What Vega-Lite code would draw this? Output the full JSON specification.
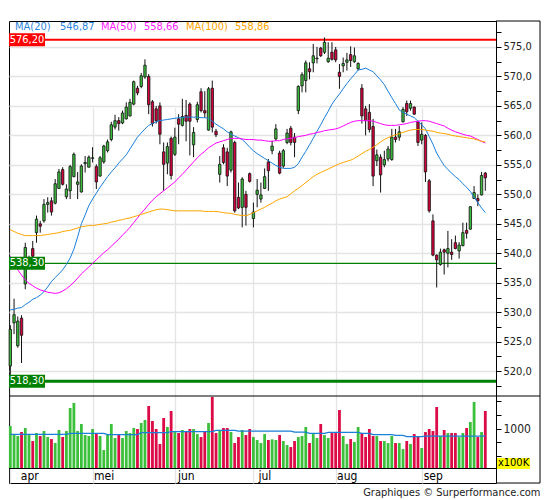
{
  "$schema": "https://vega.github.io/schema/vega-lite/v6.json",
  "width": 487,
  "height": 462,
  "padding": {"left": 7, "top": 20, "right": 0, "bottom": 0},
  "title": {"text": "Graphiques © Surperformance.com", "orient": "bottom", "anchor": "end", "frame": "bounds", "fontSize": 11, "fontWeight": "normal", "color": "#222", "offset": 3},
  "config": {"font": "DejaVu Sans Condensed, Liberation Sans, sans-serif", "view": {"stroke": "#000"}},
  "datasets": {
    "ohlc": [
      {"i":0,"o":520.9,"h":527.8,"l":519.4,"c":527.1,"v":1045,"vm":895,"m20":530.4,"m50":539.5,"m100":544.0},
      {"i":1,"o":528.2,"h":532.3,"l":526.3,"c":529.6,"v":895,"vm":895,"m20":530.5,"m50":538.3,"m100":543.7},
      {"i":2,"o":524.3,"h":529.3,"l":524.0,"c":528.5,"v":865,"vm":895,"m20":530.7,"m50":537.2,"m100":543.4},
      {"i":3,"o":529.0,"h":529.5,"l":521.4,"c":526.1,"v":937,"vm":895,"m20":530.8,"m50":536.3,"m100":543.2},
      {"i":4,"o":534.8,"h":541.8,"l":533.9,"c":541.0,"v":1009,"vm":895,"m20":531.3,"m50":535.5,"m100":543.0},
      {"i":5,"o":538.2,"h":539.6,"l":537.8,"c":539.2,"v":895,"vm":895,"m20":531.7,"m50":534.9,"m100":543.0},
      {"i":6,"o":540.8,"h":542.1,"l":538.5,"c":539.5,"v":775,"vm":895,"m20":532.2,"m50":534.5,"m100":543.0},
      {"i":7,"o":543.5,"h":546.4,"l":541.8,"c":545.8,"v":919,"vm":895,"m20":532.5,"m50":534.1,"m100":543.0},
      {"i":8,"o":545.0,"h":545.5,"l":543.5,"c":544.6,"v":865,"vm":895,"m20":532.9,"m50":533.8,"m100":543.0},
      {"i":9,"o":545.5,"h":549.2,"l":545.2,"c":548.3,"v":955,"vm":895,"m20":533.5,"m50":533.6,"m100":543.1},
      {"i":10,"o":548.3,"h":549.5,"l":546.9,"c":548.6,"v":847,"vm":895,"m20":534.3,"m50":533.4,"m100":543.2},
      {"i":11,"o":548.9,"h":549.5,"l":546.4,"c":547.0,"v":811,"vm":895,"m20":535.2,"m50":533.3,"m100":543.3},
      {"i":12,"o":548.5,"h":552.6,"l":548.3,"c":551.8,"v":739,"vm":895,"m20":535.9,"m50":533.2,"m100":543.4},
      {"i":13,"o":551.0,"h":554.3,"l":550.9,"c":553.8,"v":973,"vm":895,"m20":536.5,"m50":533.3,"m100":543.5},
      {"i":14,"o":554.2,"h":554.6,"l":551.5,"c":551.7,"v":847,"vm":895,"m20":537.2,"m50":533.6,"m100":543.7},
      {"i":15,"o":549.6,"h":551.7,"l":549.2,"c":550.9,"v":955,"vm":895,"m20":538.1,"m50":534.0,"m100":543.8},
      {"i":16,"o":550.6,"h":555.0,"l":549.2,"c":554.7,"v":1369,"vm":913,"m20":539.2,"m50":534.5,"m100":543.9},
      {"i":17,"o":553.0,"h":557.1,"l":552.9,"c":556.8,"v":1459,"vm":913,"m20":540.7,"m50":535.1,"m100":544.1},
      {"i":18,"o":551.7,"h":553.8,"l":549.2,"c":552.1,"v":955,"vm":913,"m20":542.8,"m50":535.8,"m100":544.3},
      {"i":19,"o":550.4,"h":555.1,"l":550.3,"c":554.8,"v":1081,"vm":913,"m20":545.0,"m50":536.5,"m100":544.5},
      {"i":20,"o":555.2,"h":556.5,"l":553.7,"c":555.4,"v":883,"vm":913,"m20":546.5,"m50":537.1,"m100":544.6},
      {"i":21,"o":554.6,"h":556.6,"l":554.6,"c":556.3,"v":865,"vm":913,"m20":548.1,"m50":537.7,"m100":544.7},
      {"i":22,"o":556.1,"h":558.0,"l":555.4,"c":556.2,"v":991,"vm":913,"m20":549.2,"m50":538.3,"m100":544.7},
      {"i":23,"o":554.7,"h":555.1,"l":550.9,"c":552.1,"v":901,"vm":913,"m20":550.2,"m50":538.9,"m100":544.8},
      {"i":24,"o":553.1,"h":556.5,"l":553.0,"c":556.2,"v":865,"vm":913,"m20":551.2,"m50":539.5,"m100":544.9},
      {"i":25,"o":555.5,"h":558.4,"l":555.2,"c":558.2,"v":613,"vm":913,"m20":552.1,"m50":540.1,"m100":545.0},
      {"i":26,"o":557.4,"h":559.3,"l":557.1,"c":558.9,"v":901,"vm":889,"m20":553.0,"m50":540.6,"m100":545.1},
      {"i":27,"o":559.3,"h":562.3,"l":559.0,"c":561.8,"v":1081,"vm":889,"m20":553.8,"m50":541.2,"m100":545.3},
      {"i":28,"o":561.4,"h":563.5,"l":561.0,"c":562.5,"v":829,"vm":889,"m20":554.5,"m50":541.8,"m100":545.4},
      {"i":29,"o":562.5,"h":563.1,"l":560.8,"c":562.0,"v":883,"vm":889,"m20":555.3,"m50":542.4,"m100":545.6},
      {"i":30,"o":562.1,"h":564.2,"l":561.9,"c":563.8,"v":829,"vm":889,"m20":556.0,"m50":543.1,"m100":545.7},
      {"i":31,"o":562.8,"h":565.6,"l":562.7,"c":564.8,"v":955,"vm":889,"m20":556.7,"m50":543.7,"m100":545.9},
      {"i":32,"o":563.3,"h":566.2,"l":563.2,"c":565.6,"v":919,"vm":889,"m20":557.7,"m50":544.4,"m100":546.0},
      {"i":33,"o":565.3,"h":569.3,"l":565.1,"c":569.1,"v":1009,"vm":889,"m20":558.7,"m50":545.2,"m100":546.2},
      {"i":34,"o":568.0,"h":568.4,"l":566.8,"c":567.2,"v":991,"vm":889,"m20":559.7,"m50":546.0,"m100":546.4},
      {"i":35,"o":568.3,"h":570.6,"l":568.0,"c":570.1,"v":1099,"vm":925,"m20":560.4,"m50":546.8,"m100":546.6},
      {"i":36,"o":569.9,"h":572.9,"l":569.6,"c":571.9,"v":1153,"vm":925,"m20":561.1,"m50":547.5,"m100":546.8},
      {"i":37,"o":570.0,"h":570.4,"l":563.6,"c":565.2,"v":1405,"vm":925,"m20":561.7,"m50":548.3,"m100":547.0},
      {"i":38,"o":565.7,"h":566.0,"l":561.5,"c":562.0,"v":1135,"vm":925,"m20":562.0,"m50":549.0,"m100":547.2},
      {"i":39,"o":564.5,"h":565.0,"l":562.0,"c":562.5,"v":991,"vm":925,"m20":562.3,"m50":549.6,"m100":547.4},
      {"i":40,"o":565.0,"h":565.6,"l":558.5,"c":560.2,"v":721,"vm":925,"m20":562.5,"m50":550.1,"m100":547.5},
      {"i":41,"o":557.2,"h":558.8,"l":550.6,"c":555.1,"v":1189,"vm":925,"m20":562.6,"m50":550.6,"m100":547.5},
      {"i":42,"o":555.3,"h":558.8,"l":553.4,"c":558.1,"v":1027,"vm":925,"m20":562.7,"m50":551.1,"m100":547.4},
      {"i":43,"o":559.5,"h":559.8,"l":552.5,"c":553.2,"v":1315,"vm":943,"m20":562.8,"m50":551.6,"m100":547.3},
      {"i":44,"o":556.8,"h":561.3,"l":556.5,"c":559.7,"v":937,"vm":943,"m20":562.9,"m50":552.1,"m100":547.2},
      {"i":45,"o":562.8,"h":563.6,"l":558.5,"c":561.9,"v":919,"vm":943,"m20":563.0,"m50":552.8,"m100":547.2},
      {"i":46,"o":561.7,"h":566.2,"l":561.5,"c":563.2,"v":973,"vm":943,"m20":563.0,"m50":553.4,"m100":547.2},
      {"i":47,"o":563.4,"h":566.0,"l":559.0,"c":562.4,"v":955,"vm":943,"m20":563.1,"m50":554.1,"m100":547.2},
      {"i":48,"o":565.3,"h":565.6,"l":556.6,"c":562.4,"v":991,"vm":943,"m20":563.1,"m50":554.8,"m100":547.2},
      {"i":49,"o":558.4,"h":561.4,"l":556.3,"c":560.5,"v":991,"vm":943,"m20":563.1,"m50":555.5,"m100":547.2},
      {"i":50,"o":562.7,"h":565.7,"l":562.2,"c":565.2,"v":901,"vm":943,"m20":563.1,"m50":556.2,"m100":547.2},
      {"i":51,"o":567.4,"h":568.0,"l":563.9,"c":564.2,"v":847,"vm":943,"m20":563.0,"m50":556.8,"m100":547.2},
      {"i":52,"o":564.2,"h":567.5,"l":563.0,"c":563.8,"v":955,"vm":943,"m20":563.0,"m50":557.3,"m100":547.1},
      {"i":53,"o":560.9,"h":568.2,"l":560.8,"c":567.9,"v":1099,"vm":943,"m20":562.9,"m50":557.9,"m100":547.1},
      {"i":54,"o":568.0,"h":569.3,"l":560.5,"c":561.4,"v":1567,"vm":943,"m20":562.4,"m50":558.3,"m100":547.1},
      {"i":55,"o":560.7,"h":561.1,"l":559.7,"c":560.1,"v":919,"vm":967,"m20":561.9,"m50":558.7,"m100":547.1},
      {"i":56,"o":553.4,"h":556.5,"l":552.0,"c":555.1,"v":973,"vm":967,"m20":561.5,"m50":558.9,"m100":547.0},
      {"i":57,"o":557.9,"h":558.5,"l":555.1,"c":555.4,"v":1009,"vm":967,"m20":561.1,"m50":559.1,"m100":546.9},
      {"i":58,"o":557.2,"h":557.9,"l":551.4,"c":553.1,"v":1009,"vm":967,"m20":560.6,"m50":559.3,"m100":546.8},
      {"i":59,"o":554.1,"h":560.8,"l":553.7,"c":560.6,"v":937,"vm":967,"m20":560.2,"m50":559.5,"m100":546.8},
      {"i":60,"o":558.8,"h":559.1,"l":546.9,"c":547.2,"v":739,"vm":967,"m20":559.9,"m50":559.5,"m100":546.6},
      {"i":61,"o":549.5,"h":552.0,"l":547.5,"c":547.7,"v":847,"vm":955,"m20":559.6,"m50":559.5,"m100":546.5},
      {"i":62,"o":547.8,"h":552.9,"l":544.4,"c":552.6,"v":973,"vm":955,"m20":559.3,"m50":559.4,"m100":546.4},
      {"i":63,"o":550.0,"h":550.6,"l":544.7,"c":547.8,"v":883,"vm":955,"m20":558.7,"m50":559.3,"m100":546.4},
      {"i":64,"o":553.5,"h":553.7,"l":552.0,"c":552.2,"v":991,"vm":955,"m20":558.0,"m50":559.3,"m100":546.6},
      {"i":65,"o":545.9,"h":548.6,"l":544.4,"c":547.0,"v":847,"vm":955,"m20":557.4,"m50":559.3,"m100":546.9},
      {"i":66,"o":550.0,"h":552.6,"l":547.8,"c":550.7,"v":793,"vm":955,"m20":556.9,"m50":559.2,"m100":547.2},
      {"i":67,"o":549.2,"h":552.0,"l":548.6,"c":549.9,"v":739,"vm":955,"m20":556.5,"m50":559.2,"m100":547.5},
      {"i":68,"o":551.0,"h":554.4,"l":550.9,"c":553.0,"v":901,"vm":955,"m20":556.1,"m50":559.1,"m100":547.8},
      {"i":69,"o":555.5,"h":556.0,"l":550.6,"c":554.0,"v":793,"vm":955,"m20":555.7,"m50":559.0,"m100":548.2},
      {"i":70,"o":557.4,"h":559.1,"l":556.8,"c":558.2,"v":805,"vm":955,"m20":555.3,"m50":559.0,"m100":548.5},
      {"i":71,"o":559.4,"h":561.9,"l":559.1,"c":561.1,"v":793,"vm":955,"m20":554.9,"m50":559.1,"m100":548.9},
      {"i":72,"o":557.0,"h":557.4,"l":553.4,"c":553.6,"v":883,"vm":955,"m20":554.6,"m50":559.1,"m100":549.2},
      {"i":73,"o":554.8,"h":557.7,"l":554.5,"c":557.4,"v":775,"vm":955,"m20":554.4,"m50":559.3,"m100":549.4},
      {"i":74,"o":558.8,"h":561.1,"l":558.5,"c":560.4,"v":703,"vm":955,"m20":554.4,"m50":559.4,"m100":549.6},
      {"i":75,"o":561.2,"h":561.6,"l":558.3,"c":558.8,"v":667,"vm":955,"m20":554.4,"m50":559.5,"m100":550.1},
      {"i":76,"o":559.7,"h":560.4,"l":556.3,"c":558.8,"v":775,"vm":937,"m20":554.6,"m50":559.6,"m100":550.6},
      {"i":77,"o":564.2,"h":568.5,"l":563.6,"c":568.3,"v":847,"vm":937,"m20":555.2,"m50":559.8,"m100":551.0},
      {"i":78,"o":568.4,"h":570.7,"l":567.3,"c":570.3,"v":865,"vm":937,"m20":556.3,"m50":559.9,"m100":551.5},
      {"i":79,"o":569.3,"h":572.7,"l":567.3,"c":572.3,"v":1027,"vm":937,"m20":557.3,"m50":560.0,"m100":552.0},
      {"i":80,"o":571.3,"h":572.4,"l":569.5,"c":570.8,"v":739,"vm":913,"m20":558.4,"m50":560.2,"m100":552.5},
      {"i":81,"o":572.3,"h":575.5,"l":570.7,"c":573.5,"v":901,"vm":913,"m20":559.5,"m50":560.3,"m100":553.0},
      {"i":82,"o":573.0,"h":575.0,"l":572.2,"c":573.1,"v":829,"vm":913,"m20":560.7,"m50":560.5,"m100":553.4},
      {"i":83,"o":574.8,"h":575.0,"l":573.3,"c":573.5,"v":1081,"vm":913,"m20":561.8,"m50":560.6,"m100":553.7},
      {"i":84,"o":574.1,"h":576.6,"l":573.8,"c":575.8,"v":883,"vm":913,"m20":563.0,"m50":560.8,"m100":554.0},
      {"i":85,"o":572.5,"h":575.8,"l":572.3,"c":573.1,"v":829,"vm":931,"m20":564.1,"m50":560.9,"m100":554.3},
      {"i":86,"o":574.1,"h":575.8,"l":572.7,"c":572.9,"v":919,"vm":931,"m20":565.3,"m50":561.0,"m100":554.6},
      {"i":87,"o":574.5,"h":575.0,"l":572.4,"c":572.8,"v":919,"vm":931,"m20":566.2,"m50":561.1,"m100":554.9},
      {"i":88,"o":570.7,"h":572.1,"l":567.9,"c":570.0,"v":1333,"vm":931,"m20":567.0,"m50":561.3,"m100":555.2},
      {"i":89,"o":571.8,"h":573.2,"l":570.7,"c":572.2,"v":865,"vm":931,"m20":567.9,"m50":561.6,"m100":555.4},
      {"i":90,"o":572.4,"h":574.0,"l":571.0,"c":572.8,"v":721,"vm":931,"m20":568.8,"m50":561.9,"m100":555.6},
      {"i":91,"o":573.7,"h":575.1,"l":571.6,"c":572.7,"v":811,"vm":931,"m20":569.6,"m50":562.2,"m100":555.8},
      {"i":92,"o":572.5,"h":574.9,"l":572.3,"c":573.5,"v":757,"vm":931,"m20":570.3,"m50":562.4,"m100":556.1},
      {"i":93,"o":571.3,"h":572.4,"l":571.0,"c":572.2,"v":1027,"vm":931,"m20":571.1,"m50":562.5,"m100":556.5},
      {"i":94,"o":568.0,"h":568.7,"l":562.0,"c":563.3,"v":919,"vm":913,"m20":571.2,"m50":562.5,"m100":556.9},
      {"i":95,"o":564.5,"h":565.0,"l":560.0,"c":562.5,"v":847,"vm":913,"m20":571.4,"m50":562.5,"m100":557.3},
      {"i":96,"o":563.9,"h":565.3,"l":560.5,"c":561.0,"v":991,"vm":913,"m20":571.1,"m50":562.5,"m100":557.6},
      {"i":97,"o":561.5,"h":562.8,"l":551.4,"c":553.1,"v":865,"vm":889,"m20":570.8,"m50":562.4,"m100":558.0},
      {"i":98,"o":555.7,"h":557.6,"l":554.8,"c":556.7,"v":865,"vm":889,"m20":570.1,"m50":562.2,"m100":558.4},
      {"i":99,"o":556.3,"h":556.8,"l":550.3,"c":553.3,"v":775,"vm":889,"m20":569.4,"m50":562.0,"m100":558.9},
      {"i":100,"o":555.0,"h":557.4,"l":554.6,"c":555.9,"v":775,"vm":889,"m20":568.6,"m50":561.8,"m100":559.3},
      {"i":101,"o":556.0,"h":558.2,"l":555.6,"c":557.7,"v":739,"vm":889,"m20":567.5,"m50":561.7,"m100":559.6},
      {"i":102,"o":555.9,"h":561.1,"l":555.7,"c":559.7,"v":865,"vm":889,"m20":566.4,"m50":561.7,"m100":559.9},
      {"i":103,"o":559.7,"h":561.1,"l":558.8,"c":559.3,"v":739,"vm":877,"m20":565.4,"m50":561.7,"m100":560.1},
      {"i":104,"o":559.7,"h":561.6,"l":559.1,"c":560.6,"v":739,"vm":877,"m20":564.3,"m50":561.8,"m100":560.3},
      {"i":105,"o":562.3,"h":564.8,"l":562.2,"c":564.4,"v":631,"vm":877,"m20":563.9,"m50":561.9,"m100":560.5},
      {"i":106,"o":565.4,"h":565.9,"l":563.3,"c":564.0,"v":775,"vm":853,"m20":563.6,"m50":562.0,"m100":560.7},
      {"i":107,"o":564.6,"h":565.9,"l":564.2,"c":565.4,"v":721,"vm":853,"m20":563.3,"m50":562.2,"m100":560.9},
      {"i":108,"o":564.8,"h":564.9,"l":563.5,"c":563.6,"v":901,"vm":853,"m20":563.0,"m50":562.3,"m100":561.0},
      {"i":109,"o":562.3,"h":562.5,"l":558.2,"c":558.8,"v":847,"vm":853,"m20":562.4,"m50":562.4,"m100":561.0},
      {"i":110,"o":559.2,"h":562.2,"l":558.5,"c":560.2,"v":649,"vm":853,"m20":561.8,"m50":562.5,"m100":561.0},
      {"i":111,"o":560.0,"h":560.2,"l":552.1,"c":553.8,"v":937,"vm":865,"m20":561.1,"m50":562.5,"m100":560.9},
      {"i":112,"o":552.3,"h":552.6,"l":546.9,"c":547.2,"v":991,"vm":865,"m20":559.8,"m50":562.4,"m100":560.8},
      {"i":113,"o":545.5,"h":546.6,"l":539.5,"c":539.7,"v":955,"vm":865,"m20":558.5,"m50":562.2,"m100":560.7},
      {"i":114,"o":539.7,"h":539.8,"l":534.2,"c":538.9,"v":1387,"vm":865,"m20":557.0,"m50":562.0,"m100":560.5},
      {"i":115,"o":538.1,"h":540.8,"l":537.9,"c":540.2,"v":865,"vm":865,"m20":555.9,"m50":561.8,"m100":560.4},
      {"i":116,"o":540.6,"h":540.8,"l":536.4,"c":540.2,"v":973,"vm":865,"m20":554.9,"m50":561.6,"m100":560.3},
      {"i":117,"o":540.0,"h":543.8,"l":537.6,"c":540.8,"v":919,"vm":865,"m20":554.2,"m50":561.2,"m100":560.2},
      {"i":118,"o":540.2,"h":542.4,"l":538.9,"c":539.8,"v":919,"vm":865,"m20":553.6,"m50":560.9,"m100":560.0},
      {"i":119,"o":541.8,"h":543.0,"l":540.7,"c":540.8,"v":919,"vm":865,"m20":553.0,"m50":560.6,"m100":559.9},
      {"i":120,"o":540.4,"h":541.9,"l":539.1,"c":541.4,"v":847,"vm":865,"m20":552.5,"m50":560.4,"m100":559.8},
      {"i":121,"o":541.3,"h":545.2,"l":541.2,"c":543.5,"v":919,"vm":865,"m20":551.8,"m50":560.2,"m100":559.7},
      {"i":122,"o":543.9,"h":545.2,"l":542.5,"c":543.4,"v":1009,"vm":865,"m20":551.2,"m50":560.0,"m100":559.6},
      {"i":123,"o":544.1,"h":548.0,"l":544.0,"c":547.9,"v":1117,"vm":865,"m20":550.5,"m50":559.9,"m100":559.5},
      {"i":124,"o":549.3,"h":551.4,"l":549.2,"c":550.3,"v":1477,"vm":865,"m20":549.5,"m50":559.6,"m100":559.4},
      {"i":125,"o":549.3,"h":550.0,"l":548.0,"c":548.9,"v":847,"vm":865,"m20":548.6,"m50":559.3,"m100":559.2},
      {"i":126,"o":549.9,"h":553.8,"l":549.8,"c":553.2,"v":937,"vm":865,"m20":547.7,"m50":559.0,"m100":559.0},
      {"i":127,"o":553.6,"h":553.8,"l":550.6,"c":552.8,"v":1315,"vm":865,"m20":546.9,"m50":558.7,"m100":558.9}
    ],
    "levels": [
      {"p": 576.2, "lab": "576,20"},
      {"p": 538.3, "lab": "538,30"},
      {"p": 518.3, "lab": "518,30"}
    ]
  },
  "resolve": {"scale": {"y": "independent"}},
  "layer": [
    {
      "layer": [
        {
          "data": {"name": "levels"},
          "mark": {"type": "rule"},
          "encoding": {
            "y": {
              "field": "p", "type": "quantitative",
              "scale": {"domain": [515.8, 579.4], "range": [375, 0], "nice": false, "zero": false, "padding": 0},
              "axis": {
                "orient": "right", "title": null,
                "values": [517.5, 520, 522.5, 525, 527.5, 530, 532.5, 535, 537.5, 540, 542.5, 545, 547.5, 550, 552.5, 555, 557.5, 560, 562.5, 565, 567.5, 570, 572.5, 575, 577.5],
                "tickCount": 40,
                "grid": true,
                "gridColor": {"condition": {"test": "datum.value % 5 == 0", "value": "#e4e4e4"}, "value": "transparent"},
                "gridWidth": 1.3,
                "tickSize": 5, "tickColor": "#000", "domainColor": "#000",
                "labelExpr": "datum.value % 5 == 0 ? replace(format(datum.value, '.1f'), '.', ',') : ''",
                "labelPadding": 2, "labelFontSize": 11, "labelColor": "#222",
                "labelOverlap": false, "labelBound": false, "labelFlush": false
              }
            },
            "color": {"condition": {"test": "datum.p > 570", "value": "#ff0000"}, "value": "#008000"},
            "strokeWidth": {"condition": [{"test": "datum.p == 538.3", "value": 1.3}, {"test": "datum.p > 570", "value": 2}], "value": 3}
          }
        },
        {
          "data": {"name": "ohlc"},
          "mark": {"type": "rule", "color": "#111", "strokeWidth": 1},
          "encoding": {
            "x": {"field": "i", "type": "quantitative", "scale": {"domain": [-0.35, 129.86], "nice": false, "zero": false, "padding": 0}},
            "y": {"field": "l", "type": "quantitative"},
            "y2": {"field": "h"}
          }
        },
        {
          "data": {"name": "ohlc"},
          "mark": {"type": "bar", "size": 2.4, "stroke": "#111", "strokeWidth": 0.8},
          "encoding": {
            "x": {"field": "i", "type": "quantitative", "scale": {"domain": [-0.35, 129.86], "nice": false, "zero": false, "padding": 0}},
            "y": {"field": "o", "type": "quantitative"},
            "y2": {"field": "c"},
            "color": {"condition": {"test": "datum.c >= datum.o", "value": "#3cbc3c"}, "value": "#d6003c"}
          }
        },
        {
          "data": {"name": "ohlc"},
          "mark": {"type": "line", "color": "#1a7fd8", "strokeWidth": 1},
          "encoding": {
            "x": {"field": "i", "type": "quantitative", "scale": {"domain": [-0.35, 129.86], "nice": false, "zero": false, "padding": 0}},
            "y": {"field": "m20", "type": "quantitative"}
          }
        },
        {
          "data": {"name": "ohlc"},
          "mark": {"type": "line", "color": "#ff00ff", "strokeWidth": 1},
          "encoding": {
            "x": {"field": "i", "type": "quantitative", "scale": {"domain": [-0.35, 129.86], "nice": false, "zero": false, "padding": 0}},
            "y": {"field": "m50", "type": "quantitative"}
          }
        },
        {
          "data": {"name": "ohlc"},
          "mark": {"type": "line", "color": "#ffa500", "strokeWidth": 1},
          "encoding": {
            "x": {"field": "i", "type": "quantitative", "scale": {"domain": [-0.35, 129.86], "nice": false, "zero": false, "padding": 0}},
            "y": {"field": "m100", "type": "quantitative"}
          }
        },
        {
          "data": {"name": "levels"},
          "mark": {"type": "bar", "size": 13},
          "encoding": {
            "x": {"datum": -0.35, "type": "quantitative"},
            "x2": {"datum": 9.28},
            "y": {"field": "p", "type": "quantitative"},
            "color": {"condition": {"test": "datum.p > 570", "value": "#ff0000"}, "value": "#008000"}
          }
        },
        {
          "data": {"name": "levels"},
          "mark": {"type": "text", "color": "#ffffff", "fontSize": 11, "align": "center", "baseline": "middle"},
          "encoding": {
            "x": {"datum": 4.46, "type": "quantitative"},
            "y": {"field": "p", "type": "quantitative"},
            "text": {"field": "lab"}
          }
        },
        {
          "data": {"values": [{"t": "MA(20)"}]},
          "mark": {"type": "text", "align": "left", "baseline": "middle", "fontSize": 11, "color": "#2f86dd"},
          "encoding": {"x": {"datum": 1.25, "type": "quantitative"}, "y": {"datum": 578.3, "type": "quantitative"}, "text": {"field": "t"}}
        },
        {
          "data": {"values": [{"t": "546,87"}]},
          "mark": {"type": "text", "align": "left", "baseline": "middle", "fontSize": 11, "color": "#2f86dd"},
          "encoding": {"x": {"datum": 13.29, "type": "quantitative"}, "y": {"datum": 578.3, "type": "quantitative"}, "text": {"field": "t"}}
        },
        {
          "data": {"values": [{"t": "MA(50)"}]},
          "mark": {"type": "text", "align": "left", "baseline": "middle", "fontSize": 11, "color": "#ff22ff"},
          "encoding": {"x": {"datum": 24.25, "type": "quantitative"}, "y": {"datum": 578.3, "type": "quantitative"}, "text": {"field": "t"}}
        },
        {
          "data": {"values": [{"t": "558,66"}]},
          "mark": {"type": "text", "align": "left", "baseline": "middle", "fontSize": 11, "color": "#ff22ff"},
          "encoding": {"x": {"datum": 35.75, "type": "quantitative"}, "y": {"datum": 578.3, "type": "quantitative"}, "text": {"field": "t"}}
        },
        {
          "data": {"values": [{"t": "MA(100)"}]},
          "mark": {"type": "text", "align": "left", "baseline": "middle", "fontSize": 11, "color": "#ffa500"},
          "encoding": {"x": {"datum": 46.98, "type": "quantitative"}, "y": {"datum": 578.3, "type": "quantitative"}, "text": {"field": "t"}}
        },
        {
          "data": {"values": [{"t": "558,86"}]},
          "mark": {"type": "text", "align": "left", "baseline": "middle", "fontSize": 11, "color": "#ffa500"},
          "encoding": {"x": {"datum": 60.08, "type": "quantitative"}, "y": {"datum": 578.3, "type": "quantitative"}, "text": {"field": "t"}}
        },
        {
          "data": {"values": [{}]},
          "mark": {"type": "rule", "color": "#000", "strokeWidth": 1},
          "encoding": {"x": {"datum": 141.63, "type": "quantitative"}, "y": {"datum": 579.4, "type": "quantitative"}, "y2": {"datum": 501.04}}
        },
        {
          "data": {"values": [{}]},
          "mark": {"type": "rule", "color": "#000", "strokeWidth": 1},
          "encoding": {"x": {"datum": 129.86, "type": "quantitative"}, "x2": {"datum": 141.63}, "y": {"datum": 579.4, "type": "quantitative"}}
        },
        {
          "data": {"values": [{}]},
          "mark": {"type": "rule", "color": "#000", "strokeWidth": 1},
          "encoding": {"x": {"datum": 129.86, "type": "quantitative"}, "x2": {"datum": 141.63}, "y": {"datum": 501.04, "type": "quantitative"}}
        },
        {
          "data": {"values": [{}]},
          "mark": {"type": "rule", "color": "#000", "strokeWidth": 1},
          "encoding": {"x": {"datum": -0.35, "type": "quantitative"}, "x2": {"datum": 141.63}, "y": {"datum": 515.8, "type": "quantitative"}}
        }
      ]
    },
    {
      "layer": [
        {
          "data": {"name": "ohlc"},
          "mark": {"type": "bar", "size": 2.8},
          "encoding": {
            "x": {
              "field": "i", "type": "quantitative",
              "scale": {"domain": [-0.35, 129.86], "nice": false, "zero": false, "padding": 0},
              "axis": {
                "orient": "bottom", "offset": -15, "title": null,
                "values": [0, 22, 44, 65, 87, 110],
                "tickCount": 20,
                "grid": true, "gridColor": "#e4e4e4", "gridWidth": 1.3,
                "ticks": false, "domain": true, "domainColor": "#000",
                "labelExpr": "datum.value == 0 ? 'apr' : datum.value == 22 ? 'mei' : datum.value == 44 ? 'jun' : datum.value == 65 ? 'jul' : datum.value == 87 ? 'aug' : 'sep'",
                "labelOffset": {"condition": {"test": "datum.value == 0", "value": 19}, "value": 11},
                "labelPadding": 2, "labelFontSize": 12, "labelColor": "#000",
                "labelFlush": false, "labelOverlap": false
              }
            },
            "y": {
              "field": "v", "type": "quantitative",
              "scale": {"domain": [290, 1585], "range": [447, 375], "nice": false, "zero": false, "padding": 0},
              "axis": {
                "orient": "right", "title": null,
                "values": [500, 750, 1000, 1250, 1500],
                "tickCount": 20,
                "grid": false, "tickSize": 5, "tickColor": "#000", "domainColor": "#000",
                "labelExpr": "datum.value == 1000 ? '1000' : ''",
                "labelPadding": 2, "labelFontSize": 12, "labelColor": "#222"
              }
            },
            "y2": {"datum": 290},
            "color": {"condition": {"test": "datum.c >= datum.o", "value": "#3cc03c"}, "value": "#dc0a46"}
          }
        },
        {
          "data": {"name": "ohlc"},
          "mark": {"type": "line", "color": "#1a7fd8", "strokeWidth": 1.3},
          "encoding": {
            "x": {"field": "i", "type": "quantitative", "scale": {"domain": [-0.35, 129.86], "nice": false, "zero": false, "padding": 0}},
            "y": {"field": "vm", "type": "quantitative"}
          }
        },
        {
          "data": {"values": [{}]},
          "mark": {"type": "bar", "size": 11, "color": "#ffff00"},
          "encoding": {"x": {"datum": 130.13, "type": "quantitative"}, "x2": {"datum": 138.95}, "y": {"datum": 371, "type": "quantitative"}}
        },
        {
          "data": {"values": [{"t": "x100K"}]},
          "mark": {"type": "text", "align": "center", "baseline": "middle", "fontSize": 11, "color": "#000"},
          "encoding": {"x": {"datum": 134.54, "type": "quantitative"}, "y": {"datum": 371, "type": "quantitative"}, "text": {"field": "t"}}
        }
      ]
    }
  ]
}
